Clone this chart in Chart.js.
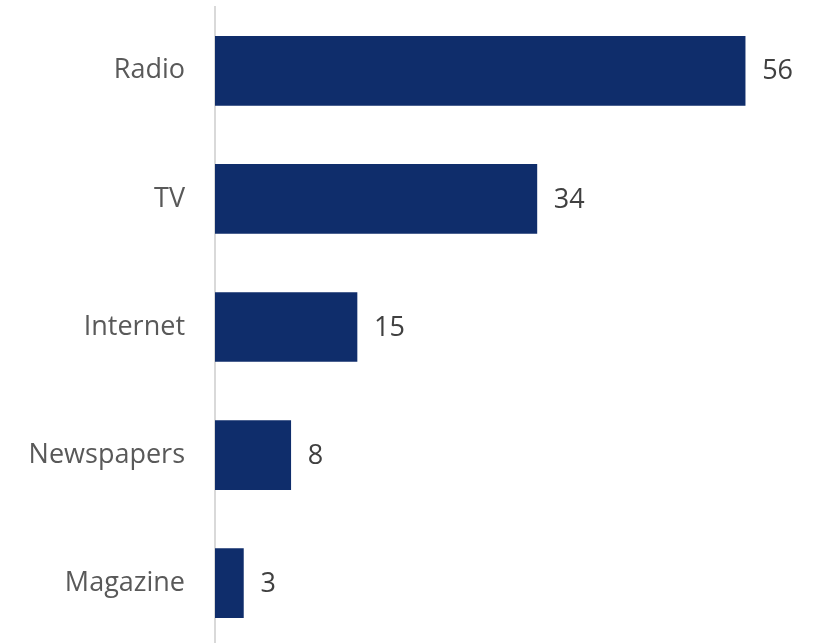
<!DOCTYPE html>
<html lang="en">
<head>
  <meta charset="UTF-8">
  <title>Media</title>
  <script src="https://cdn.jsdelivr.net/npm/chart.js"></script>
  <style>
    body{
      margin: 0;
      overflow: hidden;
      background: #ffffff;
    }
    #wrap {
      width: 818px;
      height: 654px;
      position: relative;
    }
  </style>
</head>
<body>
<div id="wrap"><canvas id="myChart"></canvas></div>
<script>
const categories = ['Radio', 'TV', 'Internet', 'Newspapers', 'Magazine'];
const values = [56, 34, 15, 8, 3];

const barColor = '#0f2d6b';
const fontFamily = '"Open Sans", Arial, sans-serif';

// draws the number just past the end of each bar
const valueLabels = {
  id: 'valueLabels',
  afterDatasetsDraw(chart) {
    const ctx = chart.ctx;
    const meta = chart.getDatasetMeta(0);
    ctx.save();
    ctx.font = '27px ' + fontFamily;
    ctx.fillStyle = '#404040';
    ctx.textAlign = 'left';
    ctx.textBaseline = 'middle';
    meta.data.forEach((bar, i) => {
      ctx.fillText(values[i], bar.x + 17, bar.y + 1);
    });
    ctx.restore();
  }
};

const ctx = document.getElementById('myChart').getContext('2d');
const myChart = new Chart(ctx, {
  type: 'bar',
  data: {
    labels: categories,
    datasets: [{
      data: values,
      backgroundColor: barColor,
      borderWidth: 0,
      barThickness: 69
    }]
  },
  options: {
    indexAxis: 'y',
    responsive: true,
    maintainAspectRatio: false,
    animation: false,
    layout: { padding: { top: 6, right: 35, left: 0, bottom: 0 } },
    plugins: {
      legend: { display: false },
      tooltip: { enabled: false }
    },
    scales: {
      x: {
        min: 0,
        max: 60,
        display: false
      },
      y: {
        afterFit(scale) { scale.width = 215; },
        // invisible ticks give the gap between labels and the axis line
        grid: { display: true, drawOnChartArea: false, drawTicks: true, tickLength: 30, color: 'rgba(0,0,0,0)' },
        border: { display: true, color: '#d9d9d9', width: 2 },
        ticks: {
          padding: 0,
          color: '#595959',
          font: { family: fontFamily, size: 27, lineHeight: 0.5 }
        }
      }
    }
  },
  plugins: [valueLabels]
});
</script>
</body>
</html>
